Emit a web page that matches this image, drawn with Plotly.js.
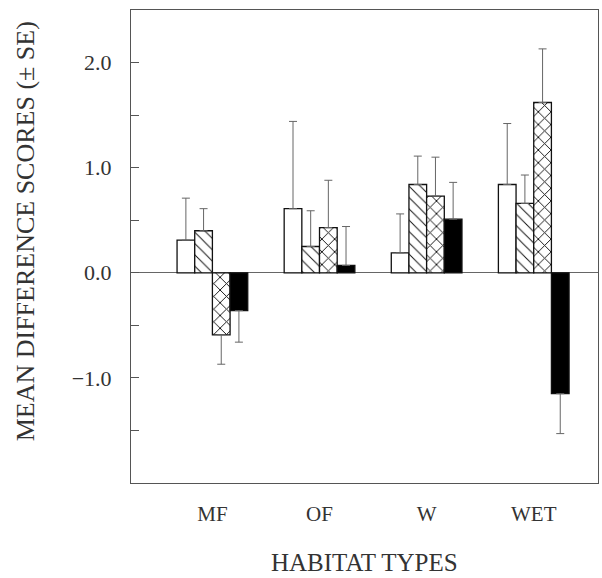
<!DOCTYPE html>
<html><head><meta charset="utf-8">
<script src="https://cdn.plot.ly/plotly-3.0.1.min.js"></script>
<style>body{margin:0;background:#fff}#plot{width:602px;height:578px}</style>
</head><body><div id="plot"></div>
<script>
const categories = ['MF', 'OF', 'W', 'WET'];
const openVals = [0.31, 0.61, 0.19, 0.84];
const openSE = [0.40, 0.83, 0.37, 0.58];
const hatchVals = [0.40, 0.25, 0.84, 0.66];
const hatchSE = [0.21, 0.34, 0.27, 0.27];
const crossVals = [-0.59, 0.43, 0.73, 1.62];
const crossSE = [0.28, 0.45, 0.37, 0.51];
const solidVals = [-0.36, 0.07, 0.51, -1.15];
const solidSE = [0.30, 0.37, 0.35, 0.38];
const yTickVals = [-1.5, -1.0, -0.5, 0.0, 0.5, 1.0, 1.5, 2.0];
const yTickText = ['', '\u22121.0', '', '0.0', '', '1.0', '', '2.0'];

function mk(vals, se, pattern, color) {
  return {
    type: 'bar', x: categories, y: vals,
    marker: {color: color, line: {color: '#111', width: 1.3}, pattern: pattern},
    error_y: {type: 'data', symmetric: false,
      array: vals.map((v, i) => v >= 0 ? se[i] : 0),
      arrayminus: vals.map((v, i) => v < 0 ? se[i] : 0),
      color: '#666', thickness: 1, width: 4},
    showlegend: false, hoverinfo: 'skip'
  };
}
const data = [
  mk(openVals, openSE, {shape: ''}, '#fff'),
  mk(hatchVals, hatchSE, {shape: '\\', fgcolor: '#111', bgcolor: '#fff', size: 8, solidity: 0.12}, '#fff'),
  mk(crossVals, crossSE, {shape: 'x', fgcolor: '#111', bgcolor: '#fff', size: 9, solidity: 0.2}, '#fff'),
  mk(solidVals, solidSE, {shape: ''}, '#000')
];
const serif = 'Liberation Serif, serif';
const layout = {
  width: 602, height: 578,
  margin: {l: 131, r: 4, t: 10, b: 95},
  paper_bgcolor: '#fff', plot_bgcolor: '#fff',
  barmode: 'group', bargap: 0.34, bargroupgap: 0,
  font: {family: serif, color: '#333', size: 20},
  xaxis: {type: 'category', range: [-0.76, 3.6], showline: true, linecolor: '#555', linewidth: 1,
    mirror: true, ticks: '', showgrid: false, zeroline: false, ticklabelstandoff: 12,
    tickfont: {size: 21, family: serif, color: '#333'}},
  yaxis: {range: [-2.0, 2.5], tickvals: yTickVals, ticktext: yTickText, ticks: 'inside', ticklen: 8,
    tickcolor: '#555', showline: true, linecolor: '#555', linewidth: 1, mirror: true,
    showgrid: false, zeroline: true, zerolinecolor: '#666', zerolinewidth: 1, ticklabelstandoff: 14,
    tickfont: {size: 22, family: serif, color: '#333'}},
  annotations: [
    {text: 'MEAN DIFFERENCE SCORES (\u00B1 SE)', textangle: -90, xref: 'paper', yref: 'paper',
     x: -0.226, y: 0.533, xanchor: 'center', yanchor: 'middle', showarrow: false,
     font: {size: 26, family: serif, color: '#333'}},
    {text: 'HABITAT TYPES', xref: 'paper', yref: 'paper', x: 0.5, y: -0.168,
     xanchor: 'center', yanchor: 'middle', showarrow: false,
     font: {size: 25, family: serif, color: '#333'}}
  ]
};
Plotly.newPlot('plot', data, layout, {displayModeBar: false, staticPlot: true});
</script></body></html>
